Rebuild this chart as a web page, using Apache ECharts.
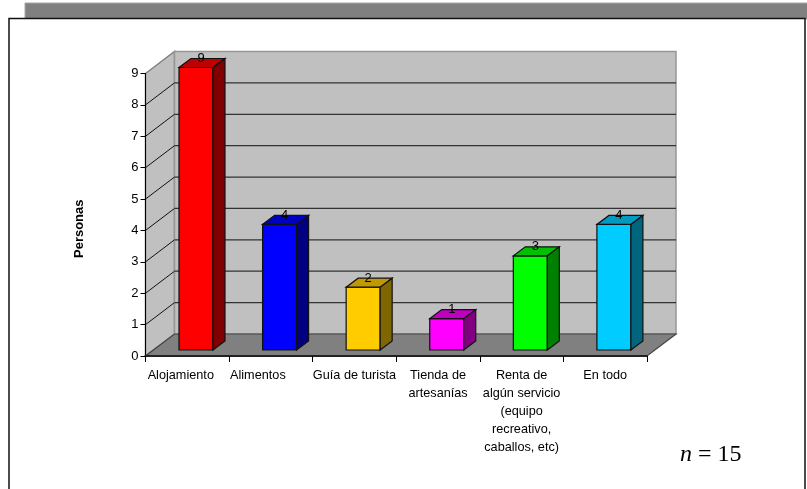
<!DOCTYPE html>
<html><head><meta charset="utf-8">
<script src="https://cdn.jsdelivr.net/npm/echarts@6/dist/echarts.min.js"></script>
<style>html,body{margin:0;padding:0;background:#fff}#c{width:807px;height:489px}</style>
</head><body><div id="c"></div>
<script>
const categories = ['Alojamiento','Alimentos','Guía de turista','Tienda de\nartesanías','Renta de\nalgún servicio\n(equipo\nrecreativo,\ncaballos, etc)','En todo'];
const values = [9,4,2,1,3,4];
const frontColors = ['#FF0000','#0000FF','#FFCC00','#FF00FF','#00FF00','#00CCFF'];
const topColors = ['#C00000','#0000C0','#C09900','#C000C0','#00C000','#0099C0'];
const sideColors = ['#800000','#000080','#806600','#800080','#008000','#006680'];
const gridValues = [1,2,3,4,5,6,7,8];
const labelPad = [13,26,0,0,0,0];

const BACK = [29,-22];   // wall depth
const OFF = [8.7,-6];    // bar offset from front plane
const DEPTH = [12,-9];   // bar depth
const BARW = 34;

const poly = (pts,fill,stroke,lw) => ({type:'polygon',shape:{points:pts},style:{fill,stroke,lineWidth:lw}});
const line = (a,b,stroke,lw) => ({type:'line',shape:{x1:a[0],y1:a[1],x2:b[0],y2:b[1]},style:{stroke,lineWidth:lw}});

const option = {
  animation:false,
  backgroundColor:'#fff',
  graphic:[
    {type:'rect',z:-10,shape:{x:25,y:3,width:790,height:16},style:{fill:'#808080',stroke:'#a6a6a6',lineWidth:1}},
    {type:'rect',z:-9,shape:{x:9,y:18.5,width:796,height:480},style:{fill:'#fff',stroke:'#111',lineWidth:1.5}},
    {type:'text',left:680,top:443,style:{rich:{i:{fontFamily:'Liberation Serif',fontStyle:'italic',fontSize:24,fill:'#000'},r:{fontFamily:'Liberation Serif',fontSize:24,fill:'#000'}},text:'{i|n}{r| = 15}'}}
  ],
  grid:{left:145.5,top:73.5,width:501.5,height:282.5},
  xAxis:{type:'category',data:categories,z:5,
    axisLine:{lineStyle:{color:'#222',width:2}},
    axisTick:{show:true,alignWithLabel:false,length:6,lineStyle:{color:'#000'}},
    axisLabel:{interval:0,margin:10,lineHeight:18.2,
      formatter:(v,i)=>v.split('\n').map(s=>`{c${i}|${s}}`).join('\n'),
      rich:Object.fromEntries(labelPad.map((p,i)=>['c'+i,{fontFamily:'Liberation Sans',fontSize:12.7,lineHeight:18.2,color:'#000',padding:[0,p,0,0]}]))}},
  yAxis:{type:'value',min:0,max:9,interval:1,z:5,
    name:'Personas',nameLocation:'middle',nameGap:60,nameRotate:90,
    nameTextStyle:{fontFamily:'Liberation Sans',fontWeight:'bold',fontSize:13,color:'#000',padding:[0,28,0,0]},
    axisLine:{show:true,lineStyle:{color:'#000',width:1}},
    axisTick:{show:true,length:5,lineStyle:{color:'#000'}},
    axisLabel:{margin:7,fontFamily:'Liberation Sans',fontSize:13,color:'#000',padding:[2,0,0,0]},
    splitLine:{show:false}},
  series:[
    {type:'custom',coordinateSystem:'cartesian2d',z:1,silent:true,clip:false,data:[[0,0]],
     renderItem:(p,api)=>{
       const cs=p.coordSys, l=cs.x, r=cs.x+cs.width, t=cs.y, b=cs.y+cs.height;
       const bx=BACK[0], by=BACK[1];
       const ch=[
         poly([[l,b],[l+bx,b+by],[l+bx,t+by],[l,t]],'#C0C0C0','#808080',1.5),
         poly([[l+bx,t+by],[r+bx,t+by],[r+bx,b+by],[l+bx,b+by]],'#C0C0C0','#969696',1.5),
       ];
       gridValues.forEach(v=>{
         const y=api.coord([0,v])[1];
         ch.push(line([l,y],[l+bx,y+by],'#111',1));
         ch.push(line([l+bx,y+by],[r+bx,y+by],'#333',1.2));
       });
       ch.push(poly([[l,b],[r,b],[r+bx,b+by],[l+bx,b+by]],'#808080','#444',1.2));
       return {type:'group',children:ch};
     }},
    {type:'custom',coordinateSystem:'cartesian2d',z:2,clip:false,silent:true,
     data:values.map((v,i)=>[i,v]),
     encode:{x:0,y:1},
     renderItem:(p,api)=>{
       const i=api.value(0), v=api.value(1);
       const top=api.coord([i,v]), base=api.coord([i,0]);
       const xl=top[0]-BARW/2+OFF[0], xr=xl+BARW;
       const yt=top[1]+OFF[1], yb=base[1]+OFF[1];
       const dx=DEPTH[0], dy=DEPTH[1], s='#111';
       return {type:'group',children:[
         poly([[xl,yb],[xr,yb],[xr,yt],[xl,yt]],frontColors[i],s,1.2),
         poly([[xl,yt],[xr,yt],[xr+dx,yt+dy],[xl+dx,yt+dy]],topColors[i],s,1.2),
         poly([[xr,yb],[xr+dx,yb+dy],[xr+dx,yt+dy],[xr,yt]],sideColors[i],s,1.2),
         {type:'text',style:{text:String(v),x:(xl+xr)/2+5,y:yt-9,align:'center',verticalAlign:'middle',fontFamily:'Liberation Sans',fontSize:13,fill:'#000'}}
       ]};
     }}
  ]
};
echarts.init(document.getElementById('c'),null,{renderer:'canvas'}).setOption(option);
</script></body></html>
